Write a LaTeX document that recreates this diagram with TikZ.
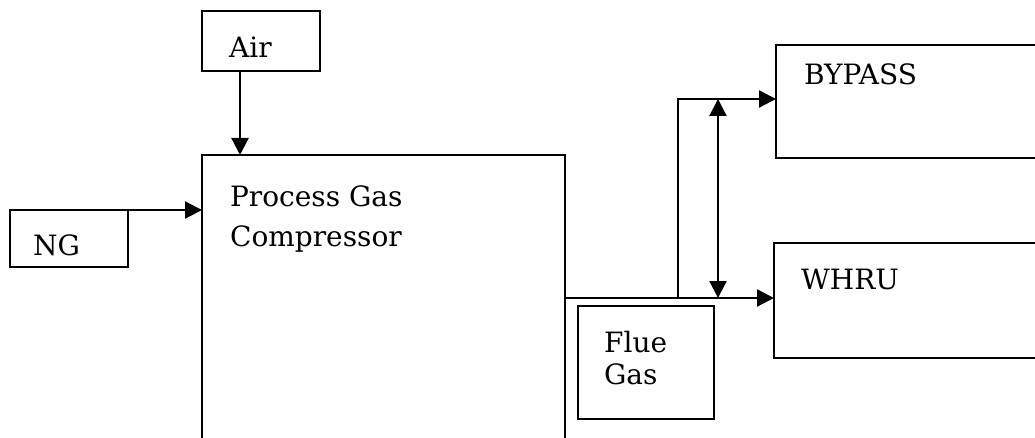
\documentclass[tikz,border=0pt]{standalone}
\usepackage{fontspec}
\setmainfont{DejaVu Serif}
\usetikzlibrary{arrows.meta}

\begin{document}
\begin{tikzpicture}[
  x=1pt, y=-1pt, line width=2.2pt,
  >={Triangle[length=17pt, width=17pt]},
  box/.style={draw, inner sep=0pt, outer sep=0pt},
  txt/.style={font=\fontsize{28}{32}\selectfont, align=left, anchor=north west, inner sep=0pt}
]
\useasboundingbox (0,0) rectangle (1035,438);

% blocks
\node[box, minimum width=118pt, minimum height=60pt]  (air)    at (261,41)    {};
\node[box, minimum width=363pt, minimum height=290pt] (pgc)    at (383.5,300) {};
\node[box, minimum width=118pt, minimum height=57pt]  (ng)     at (69,238.5)  {};
\node[box, minimum width=136pt, minimum height=113pt] (flue)   at (646,362.5) {};
\node[box, minimum width=269pt, minimum height=113pt] (bypass) at (910.5,101.5) {};
\node[box, minimum width=271pt, minimum height=115pt] (whru)   at (909.5,300.5) {};

% texts
\node[txt] (airtxt)  at (228,36)  {Air};
\node[txt] (pgctxt)  at (229,185) {Process Gas\\[8pt]Compressor};
\node[txt] (ngtxt)   at (32,234)  {NG};
\node[txt] (fluetxt) at (603,330) {Flue\\Gas};
\node[txt] (bptxt)   at (803,63)  {BYPASS};
\node[txt] (whtxt)   at (800,268) {WHRU};

% flows
\coordinate (airx)  at (240,0);
\coordinate (fgy)   at (0,298);
\coordinate (bpy)   at (0,99);
\coordinate (riser) at (678,298);
\coordinate (dbl)   at (718,0);

\draw[->] (airx |- air.south) -- (airx |- pgc.north);
\draw[->] (ng.north east) -- (ng.north east -| pgc.west);
\draw[->] (pgc.east |- fgy) -- (whru.west |- fgy);
\draw[->] (riser) |- (bypass.west |- bpy);
\draw[<->] (dbl |- bpy) -- (dbl |- fgy);
\end{tikzpicture}
\end{document}
